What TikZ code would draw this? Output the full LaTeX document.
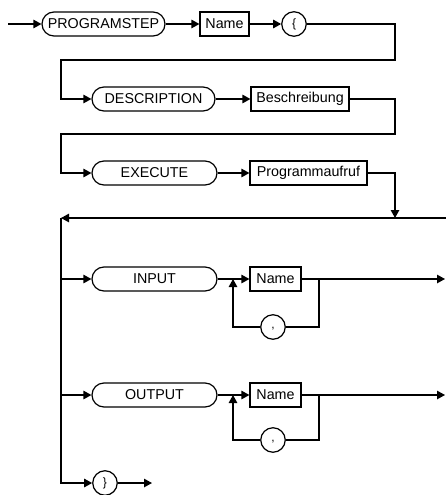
\documentclass[tikz,border=0pt]{standalone}
\usepackage{fontspec}
\setmainfont{Liberation Sans}
\usetikzlibrary{arrows.meta}
\begin{document}
\begin{tikzpicture}[x=1pt,y=-1pt,line width=1.2pt,
  >={Triangle[length=8pt,width=8.5pt]},
  kw/.style={draw,rectangle,rounded corners=12pt,minimum height=24pt,minimum width=125pt,inner sep=0pt,font=\fontsize{14.3}{16}\selectfont},
  nt/.style={draw,rectangle,minimum height=24pt,inner sep=1pt,font=\fontsize{14.3}{16}\selectfont},
  sym/.style={draw,circle,minimum size=24.5pt,inner sep=0pt,font=\fontsize{12}{12}\selectfont}]
\useasboundingbox (0,0) rectangle (446,495);
% row 1
\coordinate (s) at (8,24);
\node[kw,minimum width=123pt] (ps) at (103.5,24) {PROGRAMSTEP};
\node[nt,minimum width=49pt] (n1) at (224.5,24) {Name};
\node[sym] (lb) at (294,24) {\raisebox{-2pt}{\{}};
\coordinate (a1) at (395,24);
\coordinate (a2) at (395,60);
\coordinate (a3) at (61,60);
% row 2
\node[kw,minimum width=123pt] (desc) at (153.5,99) {DESCRIPTION};
\node[nt,minimum width=98pt] (besch) at (300,99) {Beschreibung};
\coordinate (b1) at (395,99);
\coordinate (b2) at (395,134);
\coordinate (b3) at (61,134);
% row 3
\node[kw] (exec) at (154.5,173) {EXECUTE};
\node[nt,minimum width=117pt] (prog) at (308.5,173) {Programmaufruf};
\coordinate (j1) at (395,218);
\coordinate (r0) at (446,218);
\coordinate (j2) at (61,218);
% input
\coordinate (ji) at (61,279);
\node[kw] (in) at (154.5,279) {INPUT};
\node[nt,minimum width=51pt] (n2) at (275.5,279) {Name};
\coordinate (li1) at (319,279);
\coordinate (li2) at (233,279);
\node[sym] (cm1) at (273,327) {\raisebox{-4pt}{,}};
\coordinate (ei) at (445,279);
% output
\coordinate (jo) at (61,395);
\node[kw] (out) at (154.5,395) {OUTPUT};
\node[nt,minimum width=51pt] (n3) at (275.5,395) {Name};
\coordinate (lo1) at (319,395);
\coordinate (lo2) at (233,395);
\node[sym] (cm2) at (273,440) {\raisebox{-4pt}{,}};
\coordinate (eo) at (445,395);
% end
\node[sym] (rb) at (105,483) {\raisebox{-1pt}{\}}};
\coordinate (ee) at (152,483);
% connectors
\draw[->] (s) -- (ps);
\draw[->] (ps) -- (n1);
\draw[->] (n1) -- (lb);
\draw[->] (lb) -- (a1) -- (a2) -- (a3) |- (desc.west);
\draw[->] (desc) -- (besch);
\draw[->] (besch) -- (b1) -- (b2) -- (b3) |- (exec.west);
\draw[->] (exec) -- (prog);
\draw[->] (prog.east) -| (j1);
\draw[->] (r0) -- (j2);
\draw[->] (j2) |- (rb.west);
\draw[->] (ji) -- (in.west);
\draw[->] (in) -- (n2);
\draw[->] (n2) -- (ei);
\draw (li1) |- (cm1);
\draw[->] (cm1) -| (li2);
\draw[->] (jo) -- (out.west);
\draw[->] (out) -- (n3);
\draw[->] (n3) -- (eo);
\draw (lo1) |- (cm2);
\draw[->] (cm2) -| (lo2);
\draw[->] (rb) -- (ee);
\end{tikzpicture}
\end{document}
